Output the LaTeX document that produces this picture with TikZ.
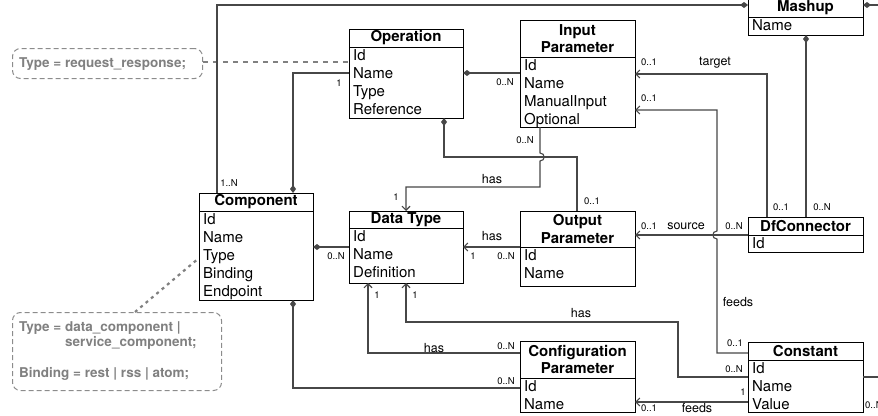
\documentclass[tikz,border=0pt]{standalone}
\usepackage{fontspec}
\setmainfont{TeX Gyre Heros}
\usetikzlibrary{arrows.meta}
\tikzset{
 clsbox/.style={draw=black, line width=0.9pt, inner sep=0pt, outer sep=0pt, anchor=north west},
 ttl/.style={font=\fontsize{15}{17.5}\selectfont\bfseries, align=center, inner sep=0pt},
 row/.style={font=\fontsize{15}{18}\selectfont, anchor=base west, inner sep=0pt},
 conn/.style={draw=black!72, line width=1.1pt},
 mult/.style={font=\fontsize{9.5}{11}\selectfont, inner sep=0pt},
 elab/.style={font=\fontsize{12.5}{14}\selectfont, inner sep=0pt},
 notebox/.style={draw=black!45, dash pattern=on 5pt off 3pt, rounded corners=8pt, line width=1pt, anchor=north west, inner sep=0pt},
 notetext/.style={font=\fontsize{13.5}{16}\selectfont\bfseries, text=black!50, anchor=base west, inner sep=0pt},
 notelink/.style={draw=black!50, line width=2.2pt, dash pattern=on 5pt off 5pt},
 dstart/.style={{Diamond[length=8pt,width=6pt]}-},
 dend/.style={-{Diamond[length=8pt,width=6pt]}},
 aend/.style={-{Straight Barb[length=4pt,width=8pt]}},
}
% name L R T TB B title
\newcommand\umlcls[7]{%
  \node[clsbox, minimum width={#3-#2}, minimum height={#6-#4}] (#1) at (#2,#4) {};
  \draw[line width=0.9pt] (#2,#5) -- (#3,#5);
  \node[ttl] (#1-title) at ({(#2+#3)/2},{(#4+#5)/2}) {#7};
}
% L TB rows
\newcommand\umlrows[3]{%
  \foreach \r [count=\i from 0] in {#3} \node[row] at ({#1+4},{#2+13+18*\i}) {\r};
}
\begin{document}
\begin{tikzpicture}[x=1pt,y=-1pt]
\useasboundingbox (0,0) rectangle (878,415);
\clip (0,0) rectangle (878,415);

% classes
\umlcls{mash}{748}{863}{-2}{17}{35}{Mashup}
\umlrows{748}{17}{Name}
\umlcls{op}{349}{463}{29}{47}{118}{Operation}
\umlrows{349}{47}{Id,Name,Type,Reference}
\umlcls{ip}{520}{635}{20}{57}{127}{Input\\Parameter}
\umlrows{520}{57}{Id,Name,ManualInput,Optional}
\umlcls{comp}{199}{313}{193}{211}{300}{Component}
\umlrows{199}{211}{Id,Name,Type,Binding,Endpoint}
\umlcls{dt}{349}{463}{211}{228}{283}{Data Type}
\umlrows{349}{228}{Id,Name,Definition}
\umlcls{outp}{520}{635}{211}{247}{286}{Output\\Parameter}
\umlrows{520}{247}{Id,Name}
\umlcls{dfc}{748}{863}{217}{235}{252}{DfConnector}
\umlrows{748}{235}{Id}
\umlcls{cfg}{520}{635}{341}{378}{412}{Configuration\\Parameter}
\umlrows{520}{378}{Id,Name}
\umlcls{cst}{748}{863}{342}{360}{412}{Constant}
\umlrows{748}{360}{Id,Name,Value}

% notes
\node[notebox, minimum width=190, minimum height=30] (n1) at (12,48) {};
\node[notetext] at (19,67) {Type = request\_response;};
\node[notebox, minimum width=209, minimum height=78] (n2) at (12,312) {};
\node[notetext] at (19,331) {Type = data\_component |};
\node[notetext] at (65,346) {service\_component;};
\node[notetext] at (19,377) {Binding = rest | rss | atom;};
\draw[notelink] (n1.east |- 0,62) -- (op.west |- 0,62);
\draw[notelink, dash pattern=on 3pt off 4pt] (n2.north -| 135,0) -- (comp.west |- 0,258);

% off-page ends
\coordinate (offA) at (892,5);
\coordinate (offB) at (892,377);

% connectors
\draw[conn, dend] (comp.north -| 217,0) -- (217,5) -- (mash.west |- 0,5);
\draw[conn, dend] (op.west |- 0,73) -- (293,73) -- (comp.north -| 293,0);
\draw[conn, dstart] (op.east |- 0,73) -- (ip.west |- 0,73);
\draw[conn, dstart] (op.south -| 444,0) -- (444,157) -- (577,157) -- (outp.north -| 577,0);
\draw[conn, aend] (ip.south -| 540,0) -- (540,153) .. controls (545.5,153) and (545.5,161) .. (540,161) -- (540,187) -- (406,187) -- (dt.north -| 406,0);
\draw[conn, dstart] (comp.east |- 0,247) -- (dt.west |- 0,247);
\draw[conn, aend] (outp.west |- 0,247) -- (dt.east |- 0,247);
\draw[conn, aend] (dfc.west |- 0,235) -- (outp.east |- 0,235);
\draw[conn, aend] (dfc.north -| 767,0) -- (767,74) -- (ip.east |- 0,74);
\draw[conn, dend] (dfc.north -| 806,0) -- (mash.south -| 806,0);
\draw[conn, aend] (cst.west |- 0,353) -- (717,353) -- (717,239) .. controls (711.5,239) and (711.5,231) .. (717,231) -- (717,110) -- (ip.east |- 0,110);
\draw[conn, aend] (cst.west |- 0,377) -- (678,377) -- (678,322) -- (406,322) -- (dt.south -| 406,0);
\draw[conn, aend] (cfg.west |- 0,353) -- (368,353) -- (dt.south -| 368,0);
\draw[conn, dstart] (comp.south -| 293,0) -- (293,388) -- (cfg.west |- 0,388);
\draw[conn, aend] (cst.west |- 0,402) -- (cfg.east |- 0,402);
\draw[conn, dstart] (mash.east |- 0,5) -- (offA);
\draw[conn] (cst.east |- 0,377) -- (offB);

% multiplicities
\node[mult] at (229,183) {1..N};
\node[mult] at (339,83) {1};
\node[mult] at (505,82) {0..N};
\node[mult] at (525,140) {0..N};
\node[mult] at (396,197) {1};
\node[mult] at (592,201) {0..1};
\node[mult] at (473,256) {1};
\node[mult] at (506,256) {0..N};
\node[mult] at (336,256) {0..N};
\node[mult] at (649,62) {0..1};
\node[mult] at (649,98) {0..1};
\node[mult] at (649,226) {0..1};
\node[mult] at (734,226) {0..N};
\node[mult] at (781,207) {0..1};
\node[mult] at (822,207) {0..N};
\node[mult] at (735,343) {0..1};
\node[mult] at (734,369) {0..N};
\node[mult] at (743,392) {1};
\node[mult] at (649,408) {0..1};
\node[mult, anchor=west] at (865,405) {0..N};
\node[mult] at (377,295) {1};
\node[mult] at (415,295) {1};
\node[mult] at (506,346) {0..N};
\node[mult] at (506,381) {0..N};

% edge labels
\node[elab] at (715,63) {target};
\node[elab] at (492,179) {has};
\node[elab] at (492,236) {has};
\node[elab] at (686,226) {source};
\node[elab] at (738,302) {feeds};
\node[elab] at (697,408) {feeds};
\node[elab] at (434,348) {has};
\node[elab] at (581,313) {has};
\end{tikzpicture}
\end{document}
